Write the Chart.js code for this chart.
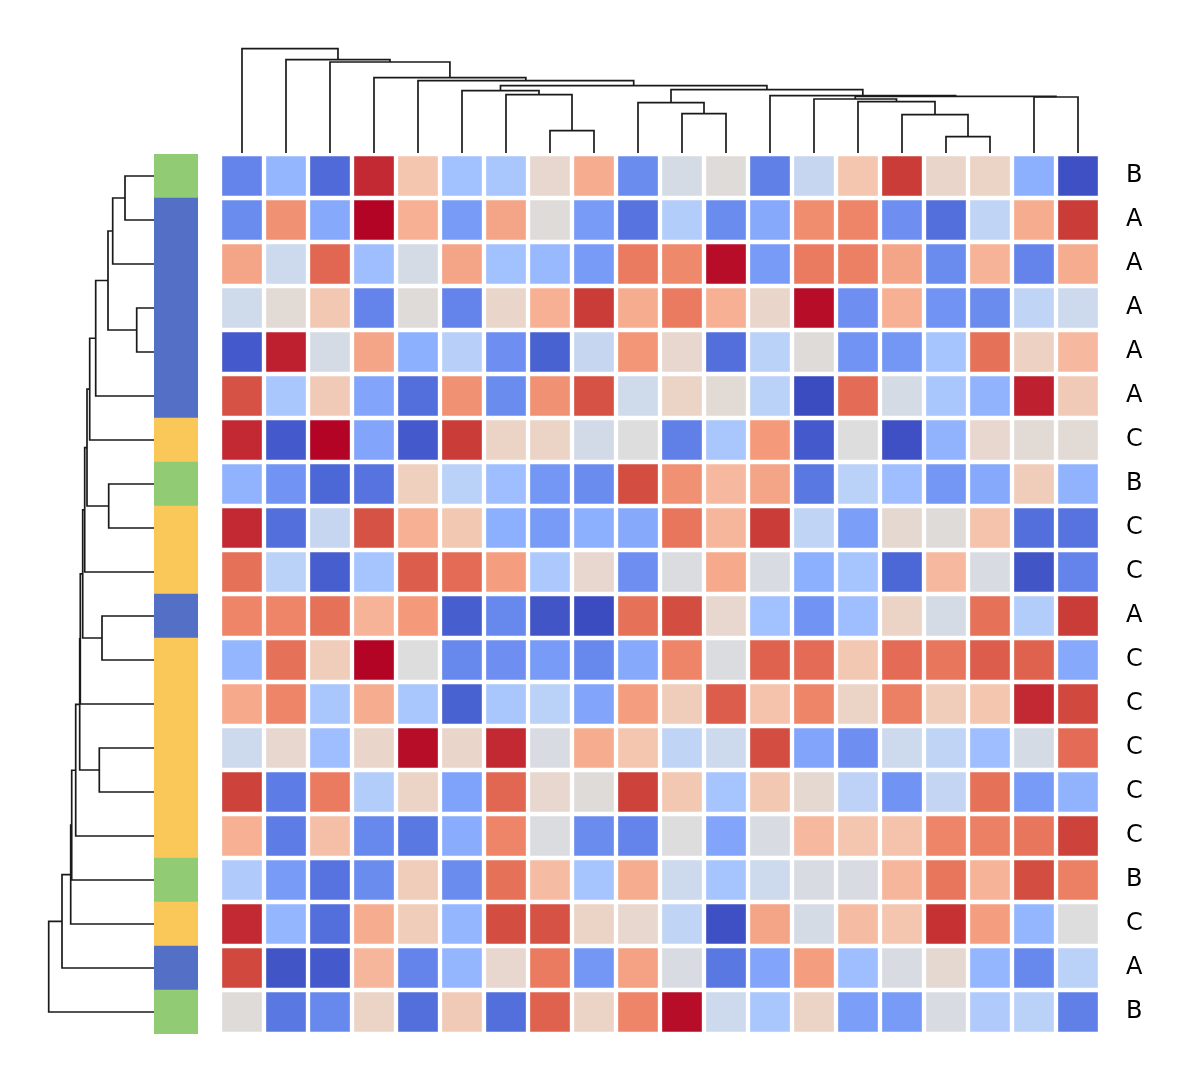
<!DOCTYPE html>
<html>
<head>
<meta charset="utf-8">
<script src="https://cdn.jsdelivr.net/npm/chart.js@4.4.1/dist/chart.umd.min.js"></script>
<style>
  html, body { margin: 0; padding: 0; background: #fff; }
  #wrap { position: relative; width: 1192px; height: 1078px; overflow: hidden; }
  canvas { position: absolute; }
</style>
</head>
<body>
<div id="wrap">
  <canvas id="colDendro" width="890" height="125" style="left:215px;top:33px"></canvas>
  <canvas id="rowDendro" width="125" height="890" style="left:34px;top:149px"></canvas>
  <canvas id="rowColors" width="44" height="880" style="left:154px;top:154px"></canvas>
  <canvas id="heat" width="972" height="880" style="left:220px;top:154px"></canvas>
</div>
<script>
// row group of each (reordered) row, top to bottom
const rowGroups = ['B','A','A','A','A','A','C','B','C','C','A','C','C','C','C','C','B','C','A','B'];
const groupColors = { A: '#5470c6', B: '#91cc75', C: '#fac858' };

// cell values, 0 = coldest, 1 = warmest (already in clustered order)
const values = [
  [0.13,0.27,0.07,0.96,0.62,0.31,0.33,0.54,0.70,0.15,0.47,0.51,0.12,0.42,0.62,0.94,0.55,0.56,0.25,0.01],
  [0.15,0.77,0.23,1.00,0.69,0.19,0.72,0.51,0.19,0.09,0.36,0.15,0.23,0.78,0.80,0.16,0.08,0.40,0.70,0.94],
  [0.72,0.44,0.86,0.30,0.47,0.72,0.31,0.28,0.19,0.82,0.79,0.99,0.19,0.82,0.81,0.72,0.15,0.68,0.13,0.70],
  [0.45,0.52,0.61,0.13,0.51,0.13,0.55,0.69,0.94,0.70,0.82,0.69,0.55,0.99,0.16,0.69,0.17,0.15,0.40,0.44],
  [0.03,0.97,0.47,0.72,0.25,0.375,0.16,0.05,0.42,0.76,0.54,0.08,0.38,0.51,0.17,0.18,0.32,0.84,0.57,0.66],
  [0.90,0.33,0.60,0.22,0.08,0.77,0.15,0.77,0.90,0.45,0.56,0.52,0.38,0.00,0.85,0.47,0.33,0.26,0.97,0.60],
  [0.96,0.03,1.00,0.22,0.03,0.94,0.56,0.56,0.46,0.50,0.12,0.33,0.75,0.03,0.50,0.01,0.26,0.54,0.52,0.52],
  [0.26,0.17,0.06,0.09,0.58,0.38,0.30,0.18,0.15,0.91,0.77,0.66,0.72,0.10,0.38,0.30,0.18,0.23,0.59,0.26],
  [0.96,0.08,0.42,0.90,0.69,0.61,0.25,0.19,0.25,0.23,0.83,0.67,0.94,0.40,0.20,0.53,0.51,0.63,0.08,0.09],
  [0.84,0.38,0.04,0.32,0.88,0.85,0.74,0.34,0.54,0.16,0.49,0.71,0.48,0.25,0.32,0.06,0.66,0.48,0.02,0.13],
  [0.80,0.80,0.84,0.68,0.75,0.04,0.14,0.02,0.00,0.84,0.91,0.54,0.31,0.17,0.30,0.56,0.47,0.84,0.36,0.94],
  [0.27,0.84,0.59,1.00,0.50,0.14,0.16,0.19,0.14,0.23,0.80,0.49,0.87,0.85,0.61,0.85,0.83,0.88,0.87,0.23],
  [0.71,0.80,0.33,0.70,0.33,0.05,0.33,0.38,0.22,0.74,0.59,0.88,0.63,0.80,0.56,0.81,0.59,0.62,0.96,0.92],
  [0.44,0.54,0.30,0.55,0.99,0.55,0.96,0.48,0.70,0.62,0.40,0.44,0.91,0.22,0.16,0.44,0.40,0.30,0.47,0.85],
  [0.93,0.11,0.82,0.36,0.56,0.21,0.86,0.54,0.51,0.93,0.61,0.32,0.61,0.53,0.39,0.17,0.41,0.84,0.19,0.26],
  [0.69,0.11,0.64,0.14,0.10,0.24,0.80,0.49,0.15,0.13,0.50,0.22,0.48,0.66,0.62,0.63,0.80,0.81,0.83,0.93],
  [0.35,0.19,0.09,0.15,0.59,0.15,0.84,0.65,0.32,0.70,0.44,0.32,0.44,0.48,0.48,0.67,0.83,0.68,0.91,0.81],
  [0.96,0.27,0.08,0.70,0.59,0.27,0.91,0.90,0.56,0.54,0.40,0.01,0.72,0.47,0.65,0.62,0.95,0.74,0.27,0.50],
  [0.92,0.02,0.03,0.67,0.13,0.27,0.54,0.82,0.18,0.73,0.48,0.10,0.22,0.74,0.30,0.48,0.53,0.27,0.14,0.38],
  [0.51,0.10,0.14,0.56,0.08,0.60,0.08,0.87,0.56,0.80,0.99,0.44,0.33,0.56,0.20,0.19,0.48,0.35,0.38,0.12]
];

// linkages: [child a, child b, height]; ids < 20 are leaves, node n gets id 20 + n
const colMerges = [
  [7,8,22.3],[6,20,58.3],[5,21,62.3],[10,11,39.3],[9,23,50.3],
  [16,17,16.3],[15,25,38.3],[14,26,51.3],[13,27,54],[18,19,56],
  [28,29,56.7],[12,30,57.3],[24,31,63.3],[22,32,67.3],[4,33,72.3],
  [3,34,75.3],[2,35,91],[1,36,93.3],[0,37,104.3]
];
const rowMerges = [
  [0,1,29],[20,2,41.3],[3,4,17.3],[21,22,46],[23,5,58.3],
  [24,6,64.3],[7,8,45.3],[25,26,67],[27,9,69.3],[10,11,52],
  [28,29,71.3],[30,12,73.7],[13,14,54.7],[31,32,74.3],[33,15,78.3],
  [34,16,82.3],[35,17,83.3],[36,18,92],[37,19,105.3]
];

const nCols = 20, nRows = 20;
const colIds = Array.from({ length: nCols }, (_, i) => 'c' + i);
const rowIds = Array.from({ length: nRows }, (_, i) => 'r' + i);

// coolwarm (Moreland) anchors
const cwStops = [
  [59,76,192],[77,104,215],[98,130,234],[119,154,247],[141,176,254],[163,194,255],
  [184,208,249],[204,217,238],[221,221,221],[236,211,197],[245,196,173],[247,177,148],
  [244,154,123],[236,127,99],[222,96,77],[203,62,56],[180,4,38]
];
function coolwarm(v) {
  const t = Math.max(0, Math.min(1, v)) * (cwStops.length - 1);
  const i = Math.min(Math.floor(t), cwStops.length - 2);
  const f = t - i;
  const a = cwStops[i], b = cwStops[i + 1];
  const c = a.map((x, k) => Math.round(x + (b[k] - x) * f));
  return `rgb(${c[0]},${c[1]},${c[2]})`;
}

// turn a linkage list into U-shaped link segments
function linkSegments(merges, nLeaves) {
  const pos = [], hgt = [];
  for (let i = 0; i < nLeaves; i++) { pos.push(i); hgt.push(0); }
  const segs = [];
  merges.forEach(([a, b, h]) => {
    segs.push([[pos[a], hgt[a]], [pos[a], h], [pos[b], h], [pos[b], hgt[b]]]);
    pos.push((pos[a] + pos[b]) / 2);
    hgt.push(h);
  });
  return segs;
}

const lineColor = '#1a1a1a';
const base = {
  responsive: false,
  animation: false,
  events: [],
  plugins: { legend: { display: false }, tooltip: { enabled: false } }
};

// column dendrogram (top)
new Chart(document.getElementById('colDendro'), {
  type: 'scatter',
  data: {
    datasets: linkSegments(colMerges, nCols).map(s => ({
      data: s.map(([p, h]) => ({ x: p, y: h })),
      showLine: true, borderColor: lineColor, borderWidth: 1.7,
      pointRadius: 0, clip: false
    }))
  },
  options: {
    ...base,
    layout: { padding: 5 },
    scales: {
      x: { display: false, min: -0.5, max: nCols - 0.5 },
      y: { display: false, min: 0, max: 115 }
    }
  }
});

// row dendrogram (left)
new Chart(document.getElementById('rowDendro'), {
  type: 'scatter',
  data: {
    datasets: linkSegments(rowMerges, nRows).map(s => ({
      data: s.map(([p, h]) => ({ x: h, y: p })),
      showLine: true, borderColor: lineColor, borderWidth: 1.7,
      pointRadius: 0, clip: false
    }))
  },
  options: {
    ...base,
    layout: { padding: 5 },
    scales: {
      x: { display: false, min: 0, max: 115, reverse: true },
      y: { display: false, min: -0.5, max: nRows - 0.5, reverse: true }
    }
  }
});

// row colour strip
new Chart(document.getElementById('rowColors'), {
  type: 'bar',
  data: {
    labels: rowIds,
    datasets: [{
      data: rowIds.map(() => 1),
      backgroundColor: rowGroups.map(g => groupColors[g]),
      borderWidth: 0, categoryPercentage: 1, barPercentage: 1
    }]
  },
  options: {
    ...base,
    indexAxis: 'y',
    layout: { padding: 0 },
    scales: {
      x: { display: false, min: 0, max: 1 },
      y: { display: false }
    }
  }
});

// heatmap: one stacked dataset per row, one bar per column
new Chart(document.getElementById('heat'), {
  type: 'bar',
  data: {
    labels: colIds,
    datasets: values.map((row, i) => ({
      label: rowIds[i],
      data: row.map(() => 1),
      backgroundColor: row.map(coolwarm),
      borderColor: '#ffffff',
      borderWidth: 2.5,
      borderSkipped: false,
      categoryPercentage: 1,
      barPercentage: 1
    }))
  },
  options: {
    ...base,
    layout: { padding: 0, autoPadding: false },
    scales: {
      x: { display: false, stacked: true },
      y: { display: false, stacked: true, min: 0, max: nRows, reverse: true },
      groups: {
        type: 'category',
        labels: rowGroups,
        position: 'right',
        offset: true,
        grid: { display: false, drawTicks: false },
        border: { display: false },
        ticks: { padding: 26, color: '#000', font: { family: 'DejaVu Sans', size: 24 } },
        afterFit: s => { s.width = 92; s.paddingTop = 0; s.paddingBottom = 0; }
      }
    }
  }
});
</script>
</body>
</html>
